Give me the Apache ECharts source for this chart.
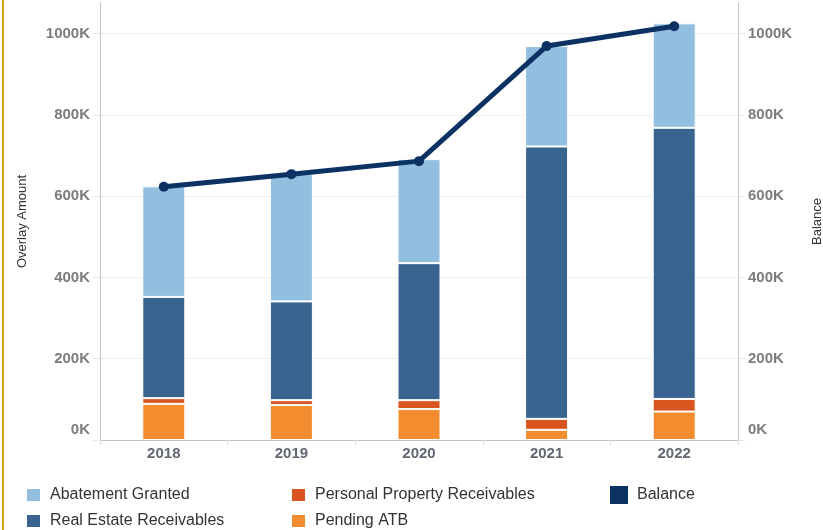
<!DOCTYPE html>
<html>
<head>
<meta charset="utf-8">
<style>
  html, body { margin: 0; padding: 0; background: #ffffff; }
  #chart { width: 823px; height: 530px; }
</style>
<script src="https://cdn.jsdelivr.net/npm/echarts@6/dist/echarts.min.js"></script>
</head>
<body>
<div id="chart"></div>
<script>
// Receivables overlay by year (stacked bars) with the year-end balance line.
const years = ['2018', '2019', '2020', '2021', '2022'];
const pendingATB = [89000, 86000, 76000, 25000, 70000];
const personalProperty = [14000, 12000, 22000, 27000, 31000];
const realEstate = [249000, 243000, 337000, 670000, 667000];
const abatementGranted = [272000, 313000, 256000, 247000, 257000];
const balance = [623000, 654000, 686000, 969000, 1018000];

const axisMax = 1075000;
const axisStep = 200000;

const FONT = "'Liberation Sans', Arial, sans-serif";
const colors = {
  abatement: '#92bfdf',
  realEstate: '#38648f',
  personal: '#d9541f',
  pending: '#f28c2f',
  balance: '#0b3263'
};

function kLabel(v) {
  const t = (v / 1000) + 'K';
  return v === 0 ? '{zero|' + t + '}' : t;
}

function valueAxis(side, name) {
  return {
    type: 'value',
    position: side,
    min: 0,
    max: axisMax,
    interval: axisStep,
    name: name,
    nameLocation: 'middle',
    nameRotate: 90,
    nameGap: side === 'left' ? 71 : 73,
    nameTextStyle: { color: '#333', fontSize: 13, fontFamily: FONT },
    axisLine: { show: true, lineStyle: { color: '#c4c4c4', width: 1 } },
    axisTick: { show: true, length: 7, lineStyle: { color: '#e6e6e6' } },
    axisLabel: {
      margin: 10,
      color: '#7c7c7c',
      fontWeight: 'bold',
      fontSize: 15,
      fontFamily: FONT,
      showMaxLabel: false,
      formatter: kLabel,
      rich: { zero: { padding: [0, 0, 20, 0], color: '#7c7c7c', fontWeight: 'bold', fontSize: 15, fontFamily: FONT } }
    },
    splitLine: side === 'left'
      ? { show: true, showMaxLine: false, lineStyle: { color: '#efefef', width: 1 } }
      : { show: false }
  };
}

function barSeries(name, data, color) {
  return {
    name: name,
    type: 'bar',
    stack: 'overlay',
    yAxisIndex: 0,
    barWidth: 43,
    data: data,
    itemStyle: { color: color, borderColor: '#ffffff', borderWidth: 1 },
    emphasis: { disabled: true }
  };
}

const legendText = { color: '#333', fontSize: 16, lineHeight: 16, fontFamily: FONT, padding: [0, 0, 0, 4] };

function legendBlock(left, top, size, names) {
  return {
    orient: 'vertical', left: left, top: top, height: 44, padding: 0,
    itemWidth: size, itemHeight: size === 18 ? 18 : 14, itemGap: 10,
    icon: 'rect', textStyle: legendText, selectedMode: false,
    data: names
  };
}

const chart = echarts.init(document.getElementById('chart'), null, { renderer: 'canvas' });
chart.setOption({
  animation: false,
  backgroundColor: '#ffffff',
  grid: { left: 100, right: 85, top: 3, bottom: 90, outerBoundsMode: 'none', containLabel: false },
  graphic: [{
    type: 'rect',
    shape: { x: 2, y: 0, width: 2, height: 530 },
    style: { fill: '#d4a21c' },
    silent: true
  }],
  legend: [
    legendBlock(25, 487, 15, ['Abatement Granted', 'Real Estate Receivables']),
    legendBlock(290, 487, 15, ['Personal Property Receivables', 'Pending ATB']),
    legendBlock(610, 486, 18, ['Balance'])
  ],
  xAxis: {
    type: 'category',
    data: years,
    boundaryGap: true,
    axisLine: { show: true, lineStyle: { color: '#c4c4c4', width: 1 } },
    axisTick: { show: true, length: 5, lineStyle: { color: '#dcdcdc' } },
    axisLabel: { margin: 6, color: '#626872', fontWeight: 'bold', fontSize: 15, fontFamily: FONT },
    splitLine: { show: false }
  },
  yAxis: [
    valueAxis('left', 'Overlay Amount'),
    valueAxis('right', 'Balance')
  ],
  series: [
    barSeries('Pending ATB', pendingATB, colors.pending),
    barSeries('Personal Property Receivables', personalProperty, colors.personal),
    barSeries('Real Estate Receivables', realEstate, colors.realEstate),
    barSeries('Abatement Granted', abatementGranted, colors.abatement),
    {
      name: 'Balance',
      type: 'line',
      yAxisIndex: 1,
      data: balance,
      symbol: 'circle',
      symbolSize: 10,
      z: 5,
      lineStyle: { color: colors.balance, width: 5 },
      itemStyle: { color: colors.balance },
      emphasis: { disabled: true }
    }
  ]
});
</script>
</body>
</html>
